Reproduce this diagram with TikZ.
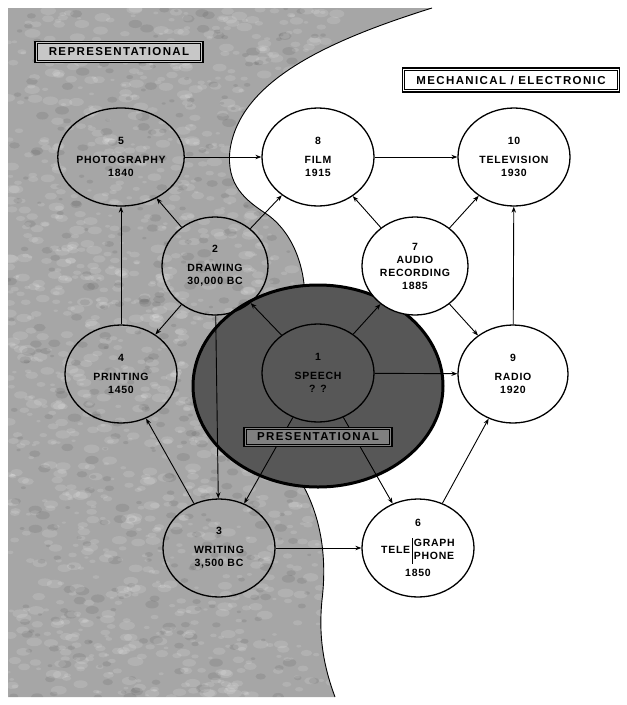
\documentclass[tikz,border=0pt]{standalone}
\usepackage{fontspec}
\setmainfont{Liberation Sans}
\newfontfamily\nodefont[LetterSpace=7]{Liberation Sans}
\newfontfamily\tagfont[LetterSpace=12]{Liberation Sans}
\usetikzlibrary{shapes.geometric,arrows.meta}
\begin{document}
\begin{tikzpicture}[x=1pt,y=-1pt,
  medium/.style={ellipse,draw=black,line width=1.3pt,minimum width=112pt,minimum height=98pt,inner sep=0pt,align=center,font=\nodefont\fontsize{10.5}{13}\selectfont\bfseries},
  onwhite/.style={medium,fill=white},
  ongray/.style={medium},
  conn/.style={line width=0.9pt,-{Stealth[length=6pt,width=4.5pt]}},
  tag/.style={draw=black,line width=1.5pt,inner xsep=4pt,inner ysep=3pt,font=\tagfont\fontsize{11.5}{13}\selectfont\bfseries},
  tagin/.style={line width=0.6pt}
]
\useasboundingbox (0,0) rectangle (627,705);
% gray representational region with texture
\begin{scope}
\clip (8,8) -- (432,8) .. controls (330,40) and (240,80) .. (230,150) .. controls (226,185) and (245,200) .. (268,215) .. controls (295,235) and (305,270) .. (305,300) -- (300,480) .. controls (318,510) and (328,550) .. (322,600) .. controls (318,640) and (325,670) .. (335,697) -- (8,697) -- cycle;
\fill[black!35] (0,0) rectangle (627,705);
\pgfmathsetseed{7}
\foreach \i in {1,...,1400}{
  \pgfmathsetmacro{\xx}{8+335*rnd}
  \pgfmathsetmacro{\yy}{8+690*rnd}
  \pgfmathsetmacro{\rr}{2+6*rnd}
  \fill[white,opacity=0.13] (\xx,\yy) ellipse ({\rr} and {0.55*\rr});
}
\foreach \i in {1,...,500}{
  \pgfmathsetmacro{\xx}{8+335*rnd}
  \pgfmathsetmacro{\yy}{8+690*rnd}
  \pgfmathsetmacro{\rr}{2+5*rnd}
  \fill[black,opacity=0.08] (\xx,\yy) ellipse ({\rr} and {0.6*\rr});
}
\end{scope}
\draw[line width=0.9pt] (432,8) .. controls (330,40) and (240,80) .. (230,150) .. controls (226,185) and (245,200) .. (268,215) .. controls (295,235) and (305,270) .. (305,300);
\draw[line width=0.9pt] (300,480) .. controls (318,510) and (328,550) .. (322,600) .. controls (318,640) and (325,670) .. (335,697);

% big presentational circle
\node[ellipse,draw=black,line width=3pt,fill=black!66,minimum width=250pt,minimum height=202pt,inner sep=0pt] (big) at (318,386) {};

% nodes
\node[ongray] (photo) at (121,157) {5\\[6pt]PHOTOGRAPHY\\1840};
\node[onwhite] (film) at (318,157) {8\\[6pt]FILM\\1915};
\node[onwhite] (tv) at (514,157) {10\\[6pt]TELEVISION\\1930};
\node[ongray,minimum width=106pt] (drawing) at (215,266) {2\\[6pt]DRAWING\\30,000 BC};
\node[onwhite,minimum width=106pt] (audio) at (415,266) {7\\AUDIO\\RECORDING\\1885};
\node[ongray] (printing) at (121,374) {4\\[6pt]PRINTING\\1450};
\node[medium] (speech) at (318,373) {1\\[6pt]SPEECH\\? ?};
\node[onwhite,minimum width=110pt] (radio) at (513,374) {9\\[6pt]RADIO\\1920};
\node[ongray] (writing) at (219,548) {3\\[6pt]WRITING\\3,500 BC};
\node[onwhite] (tele) at (418,548) {6\\[10pt]TELE\,\begin{tabular}{@{}|@{\,}l@{}}GRAPH\\PHONE\end{tabular}\\[5pt]1850};

% connectors
\draw[conn] (photo) -- (film);
\draw[conn] (film) -- (tv);
\draw[conn] (drawing) -- (photo);
\draw[conn] (drawing) -- (film);
\draw[conn] (audio) -- (film);
\draw[conn] (audio) -- (tv);
\draw[conn] (audio) -- (radio);
\draw[conn] (radio) -- (tv);
\draw[conn] (printing) -- (photo);
\draw[conn] (drawing) -- (printing);
\draw[conn] (drawing) -- (writing);
\draw[conn] (speech) -- (drawing);
\draw[conn] (speech) -- (audio);
\draw[conn] (speech) -- (radio);
\draw[conn] (speech) -- (writing);
\draw[conn] (speech) -- (tele);
\draw[conn] (writing) -- (printing);
\draw[conn] (writing) -- (tele);
\draw[conn] (tele) -- (radio);

% tags
\node[tag,fill=black!22,minimum width=168pt,minimum height=21pt] (rep) at (119,52) {REPRESENTATIONAL};
\draw[tagin] ([xshift=3pt,yshift=-3pt]rep.north west) rectangle ([xshift=-3pt,yshift=3pt]rep.south east);
\node[tag,fill=white,minimum width=217pt,minimum height=24pt] (mech) at (511,80) {MECHANICAL / ELECTRONIC};
\draw[tagin] ([xshift=3pt,yshift=-3pt]mech.north west) rectangle ([xshift=-3pt,yshift=3pt]mech.south east);
\node[tag,fill=black!50,minimum width=148pt,minimum height=19pt] (pres) at (318,437) {PRESENTATIONAL};
\draw[tagin] ([xshift=3pt,yshift=-3pt]pres.north west) rectangle ([xshift=-3pt,yshift=3pt]pres.south east);
\end{tikzpicture}
\end{document}
